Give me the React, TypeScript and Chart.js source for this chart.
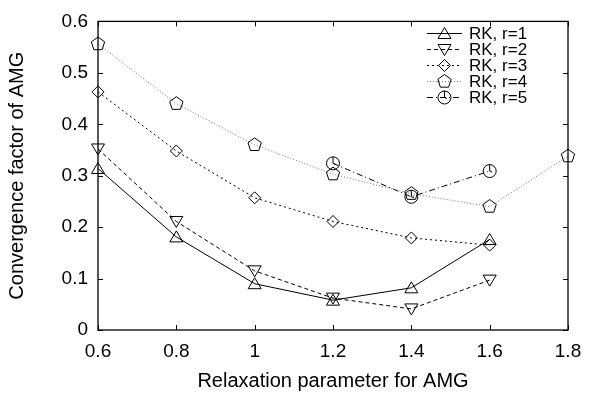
import React, { useEffect, useRef } from "react";
import { Chart, registerables } from "chart.js";

Chart.register(...registerables);

const xValues = [0.6, 0.8, 1.0, 1.2, 1.4, 1.6, 1.8];
const r1 = [0.314, 0.181, 0.09, 0.058, 0.082, 0.176, null];
const r2 = [0.352, 0.211, 0.115, 0.062, 0.041, 0.097, null];
const r3 = [0.463, 0.348, 0.257, 0.211, 0.179, 0.165, null];
const r4 = [0.556, 0.44, 0.36, 0.303, 0.265, 0.24, 0.338];
const r5 = [null, null, null, 0.324, 0.259, 0.309, null];
const seriesLabels = ["RK, r=1", "RK, r=2", "RK, r=3", "RK, r=4", "RK, r=5"];
const markerKinds = ["up", "down", "diamond", "pentagon", "circle"];
const xTickLabels = ["0.6", "0.8", "1", "1.2", "1.4", "1.6", "1.8"];
const yTickLabels = ["0", "0.1", "0.2", "0.3", "0.4", "0.5", "0.6"];

const FONT = "'Liberation Sans', Arial, Helvetica, sans-serif";

function drawMarker(g: CanvasRenderingContext2D, kind: string, cx: number, cy: number) {
  g.save();
  g.strokeStyle = "#000";
  g.lineWidth = 1;
  g.setLineDash([]);
  g.beginPath();
  if (kind === "up") {
    g.moveTo(cx, cy - 6);
    g.lineTo(cx + 6.5, cy + 5);
    g.lineTo(cx - 6.5, cy + 5);
    g.closePath();
  } else if (kind === "down") {
    g.moveTo(cx, cy + 6);
    g.lineTo(cx + 6.5, cy - 5);
    g.lineTo(cx - 6.5, cy - 5);
    g.closePath();
  } else if (kind === "diamond") {
    g.moveTo(cx, cy - 6);
    g.lineTo(cx + 6, cy);
    g.lineTo(cx, cy + 6);
    g.lineTo(cx - 6, cy);
    g.closePath();
  } else if (kind === "pentagon") {
    for (let i = 0; i < 5; i++) {
      const a = -Math.PI / 2 + (i * 2 * Math.PI) / 5;
      const px = cx + 7 * Math.cos(a);
      const py = cy + 7 * Math.sin(a);
      if (i === 0) g.moveTo(px, py);
      else g.lineTo(px, py);
    }
    g.closePath();
  } else {
    g.arc(cx, cy, 6.5, 0, Math.PI * 2);
    g.moveTo(cx, cy - 6.5);
    g.lineTo(cx, cy);
    g.lineTo(cx + 2.5, cy + 1);
  }
  g.stroke();
  g.restore();
}

function toPoints(vals: (number | null)[]) {
  const pts: { x: number; y: number }[] = [];
  vals.forEach((v, i) => {
    if (v !== null) pts.push({ x: xValues[i], y: v });
  });
  return pts;
}

export default function App() {
  const ref = useRef<HTMLCanvasElement>(null);

  useEffect(() => {
    document.body.style.margin = "0";
    const canvas = ref.current!;
    const seriesVals = [r1, r2, r3, r4, r5];
    const colors = ["#000", "#000", "#000", "#777", "#000"];
    const dashes = [[], [4, 3], [2, 3], [1, 2], [6, 3, 1, 3]];

    const datasets = seriesVals.map((vals, i) => ({
      label: seriesLabels[i],
      data: toPoints(vals),
      borderColor: colors[i],
      borderWidth: 1,
      borderDash: dashes[i],
      backgroundColor: "transparent",
      pointRadius: 0,
      tension: 0,
      fill: false,
    }));

    const framePlugin = {
      id: "frame",
      afterDatasetsDraw(chart: any) {
        const { ctx } = chart;
        chart.data.datasets.forEach((_ds: any, i: number) => {
          const meta = chart.getDatasetMeta(i);
          meta.data.forEach((el: any) => drawMarker(ctx, markerKinds[i], el.x, el.y));
        });
      },
      afterDraw(chart: any) {
        const { ctx, chartArea } = chart;
        const { left, right, top, bottom } = chartArea;
        const xs = chart.scales.x;
        const ys = chart.scales.y;
        ctx.save();
        ctx.strokeStyle = "#000";
        ctx.lineWidth = 1.3;
        ctx.setLineDash([]);
        ctx.strokeRect(left, top, right - left, bottom - top);
        ctx.lineWidth = 1;
        const tl = 5;
        ctx.beginPath();
        xValues.forEach((v) => {
          const px = Math.round(xs.getPixelForValue(v)) + 0.5;
          ctx.moveTo(px, bottom);
          ctx.lineTo(px, bottom - tl);
          ctx.moveTo(px, top);
          ctx.lineTo(px, top + tl);
        });
        yTickLabels.forEach((t) => {
          const py = Math.round(ys.getPixelForValue(parseFloat(t))) + 0.5;
          ctx.moveTo(left, py);
          ctx.lineTo(left + tl, py);
          ctx.moveTo(right, py);
          ctx.lineTo(right - tl, py);
        });
        ctx.stroke();

        // legend
        const lx0 = 427;
        const lx1 = 462;
        const textX = 469;
        const y0 = 33;
        const dy = 16;
        ctx.font = `17px ${FONT}`;
        ctx.textBaseline = "middle";
        ctx.textAlign = "left";
        ctx.fillStyle = "#000";
        chart.data.datasets.forEach((ds: any, i: number) => {
          const y = y0 + i * dy + 0.5;
          ctx.strokeStyle = ds.borderColor;
          ctx.setLineDash(ds.borderDash);
          ctx.beginPath();
          ctx.moveTo(lx0, y);
          ctx.lineTo(lx1, y);
          ctx.stroke();
          ctx.setLineDash([]);
          drawMarker(ctx, markerKinds[i], (lx0 + lx1) / 2, y);
          ctx.fillText(ds.label, textX, y + 1);
        });
        ctx.restore();
      },
    };

    const chart = new Chart(canvas, {
      type: "line",
      data: { datasets: datasets as any },
      plugins: [framePlugin],
      options: {
        animation: false,
        responsive: false,
        layout: { padding: { left: 0, top: 15, right: 27, bottom: 0 } },
        plugins: {
          legend: { display: false },
          tooltip: { enabled: false },
        },
        scales: {
          x: {
            type: "linear",
            min: 0.6,
            max: 1.8,
            grid: { display: false, drawTicks: false },
            border: { display: false },
            afterBuildTicks: (s: any) => {
              s.ticks = xValues.map((v) => ({ value: v }));
            },
            afterFit: (s: any) => {
              s.height = 63;
            },
            ticks: {
              padding: 10,
              color: "#000",
              font: { family: FONT, size: 19 },
              maxRotation: 0,
              callback: (_v: any, i: number) => xTickLabels[i],
            },
            title: {
              display: true,
              text: "Relaxation parameter for AMG",
              color: "#000",
              font: { family: FONT, size: 20 },
              padding: { top: 0, bottom: 0 },
            },
          },
          y: {
            type: "linear",
            min: 0,
            max: 0.6,
            grid: { display: false, drawTicks: false },
            border: { display: false },
            afterBuildTicks: (s: any) => {
              s.ticks = yTickLabels.map((t) => ({ value: parseFloat(t) }));
            },
            afterFit: (s: any) => {
              s.width = 98;
            },
            ticks: {
              padding: 10,
              color: "#000",
              font: { family: FONT, size: 19 },
              callback: (_v: any, i: number) => yTickLabels[i],
            },
            title: {
              display: true,
              text: "Convergence factor of AMG",
              color: "#000",
              font: { family: FONT, size: 20 },
              padding: { top: 5, bottom: 0 },
            },
          },
        },
      },
    });
    return () => chart.destroy();
  }, []);

  return (
    <canvas
      ref={ref}
      width={595}
      height={393}
      style={{ display: "block", width: 595, height: 393 }}
    />
  );
}
